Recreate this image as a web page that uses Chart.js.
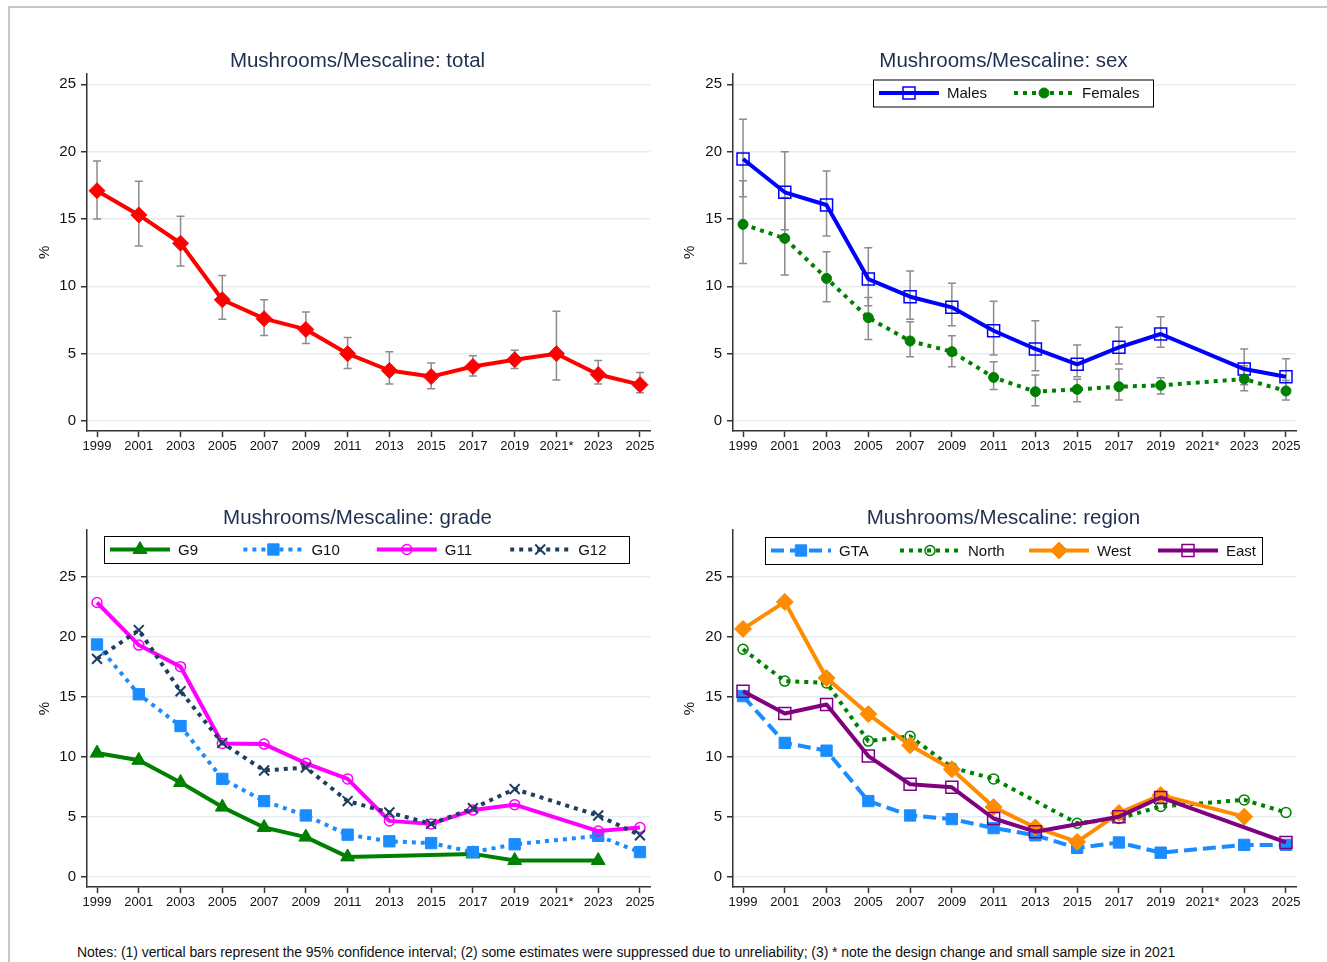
<!DOCTYPE html>
<html>
<head>
<meta charset="utf-8">
<title>Mushrooms/Mescaline</title>
<script src="https://cdn.jsdelivr.net/npm/chart.js@4.4.1/dist/chart.umd.min.js"></script>
<style>
  html, body { margin: 0; padding: 0; background: #fff; overflow: hidden; }
  body { width: 1327px; height: 962px; position: relative; font-family: "Liberation Sans", Arial, sans-serif; }
  .frame { position: absolute; left: 8px; top: 6px; right: -4px; bottom: -4px; border-top: 2px solid #c8c8c8; border-left: 2px solid #c8c8c8; }
  canvas { position: absolute; }
  #notes { position: absolute; left: 77px; top: 944px; font-size: 14px; letter-spacing: -0.06px; color: #111; white-space: nowrap; }
</style>
</head>
<body>
<div class="frame"></div>
<canvas id="cTotal" width="650" height="430" style="left:20px;top:40px"></canvas>
<canvas id="cSex" width="651" height="430" style="left:665px;top:40px"></canvas>
<canvas id="cGrade" width="650" height="430" style="left:20px;top:497px"></canvas>
<canvas id="cRegion" width="651" height="430" style="left:665px;top:497px"></canvas>
<div id="notes">Notes: (1) vertical bars represent the 95% confidence interval; (2) some estimates were suppressed due to unreliability; (3) * note the design change and small sample size in 2021</div>
<script>
// survey years on the x axis
const years = ['1999', '2001', '2003', '2005', '2007', '2009', '2011', '2013', '2015', '2017', '2019', '2021*', '2023', '2025'];
const yTicks = [0, 5, 10, 15, 20, 25];

// total, with 95% CI
const totalPct = [17.1, 15.3, 13.2, 9.0, 7.6, 6.8, 5.0, 3.75, 3.3, 4.05, 4.55, 5.0, 3.45, 2.7];
const totalLo  = [15.0, 13.0, 11.5, 7.55, 6.35, 5.75, 3.9, 2.75, 2.4, 3.35, 3.9, 3.05, 2.75, 2.1];
const totalHi  = [19.3, 17.8, 15.2, 10.8, 9.0, 8.1, 6.2, 5.15, 4.3, 4.85, 5.25, 8.15, 4.5, 3.6];

// by sex, with 95% CI (2021 suppressed)
const malesPct   = [19.45, 16.98, 16.04, 10.54, 9.23, 8.44, 6.7, 5.35, 4.21, 5.47, 6.46, null, 3.86, 3.29];
const malesLo    = [16.65, 14.2, 13.73, 8.56, 7.55, 7.08, 4.9, 3.74, 3.29, 4.23, 5.47, null, 2.7, 2.4];
const malesHi    = [22.4, 20.0, 18.56, 12.87, 11.14, 10.22, 8.9, 7.45, 5.64, 6.96, 7.74, null, 5.35, 4.63];
const femalesPct = [14.6, 13.56, 10.59, 7.67, 5.94, 5.15, 3.24, 2.18, 2.35, 2.55, 2.65, null, 3.12, 2.23];
const femalesLo  = [11.7, 10.84, 8.86, 6.06, 4.77, 4.03, 2.35, 1.14, 1.43, 1.56, 2.0, null, 2.25, 1.56];
const femalesHi  = [17.84, 16.6, 12.57, 9.18, 7.37, 6.33, 4.4, 3.42, 3.1, 3.86, 3.21, null, 4.1, 3.0];

// by grade
const g9Pct  = [10.3, 9.7, 7.85, 5.8, 4.1, 3.3, 1.65, null, null, 1.9, 1.35, null, 1.35, null];
const g10Pct = [19.35, 15.2, 12.55, 8.15, 6.3, 5.1, 3.5, 2.95, 2.8, 2.05, 2.7, null, 3.4, 2.05];
const g11Pct = [22.85, 19.3, 17.5, 11.1, 11.05, 9.45, 8.15, 4.65, 4.4, 5.55, 6.0, null, 3.8, 4.1];
const g12Pct = [18.15, 20.55, 15.45, 11.15, 8.85, 9.1, 6.3, 5.35, 4.4, 5.7, 7.3, null, 5.1, 3.45];

// by region
const gtaPct   = [15.05, 11.15, 10.5, 6.3, 5.1, 4.8, 4.05, 3.45, 2.4, 2.85, 2.0, null, 2.65, 2.65];
const northPct = [18.95, 16.3, 16.15, 11.3, 11.7, 9.1, 8.15, null, 4.45, 4.85, 5.85, null, 6.4, 5.35];
const westPct  = [20.65, 22.9, 16.55, 13.55, 10.95, 8.95, 5.8, 4.1, 2.9, 5.3, 6.8, null, 5.0, null];
const eastPct  = [15.45, 13.6, 14.35, 10.05, 7.7, 7.45, 4.85, 3.75, null, 5.0, 6.6, null, null, 2.85];

const FONT = '"Liberation Sans", Arial, sans-serif';
const INK = '#111';
const AXIS = '#333';
Chart.defaults.font.family = FONT;
Chart.defaults.color = INK;

// missing estimates are dropped so the line joins the neighbours
function points(vals) {
  return vals.map((v, i) => ({ x: i, y: v })).filter(p => p.y !== null);
}

function series(label, vals, st, idx) {
  return {
    label: label,
    data: points(vals),
    order: -idx,
    borderColor: st.color,
    borderWidth: 4,
    borderDash: st.dash || [],
    borderJoinStyle: 'round',
    borderCapStyle: 'butt',
    pointStyle: st.marker,
    pointRadius: st.size,
    pointBorderWidth: st.line || 1,
    pointBorderColor: st.color,
    pointBackgroundColor: st.hollow ? 'rgba(0,0,0,0)' : st.color,
    pointHoverRadius: st.size,
    tension: 0,
    fill: false,
    ciLo: st.lo || null,
    ciHi: st.hi || null
  };
}

// grey confidence interval whiskers, under the lines
const ciBars = {
  id: 'ciBars',
  beforeDatasetsDraw(chart) {
    const { ctx, scales: { x, y } } = chart;
    ctx.save();
    ctx.strokeStyle = '#8c8c8c';
    ctx.lineWidth = 1.5;
    chart.data.datasets.forEach(ds => {
      if (!ds.ciLo) return;
      ds.ciLo.forEach((lo, i) => {
        const hi = ds.ciHi[i];
        if (lo === null || hi === null) return;
        const px = x.getPixelForValue(i);
        const yl = y.getPixelForValue(lo);
        const yh = y.getPixelForValue(hi);
        ctx.beginPath();
        ctx.moveTo(px, yl); ctx.lineTo(px, yh);
        ctx.moveTo(px - 4, yl); ctx.lineTo(px + 4, yl);
        ctx.moveTo(px - 4, yh); ctx.lineTo(px + 4, yh);
        ctx.stroke();
      });
    });
    ctx.restore();
  }
};

const panelTitle = {
  id: 'panelTitle',
  afterDraw(chart, args, opts) {
    const { ctx, chartArea } = chart;
    ctx.save();
    ctx.font = '20.5px ' + FONT;
    ctx.fillStyle = '#1e2f4f';
    ctx.textAlign = 'center';
    ctx.textBaseline = 'middle';
    ctx.fillText(opts.text, (chartArea.left + chartArea.right) / 2 - 11, chartArea.top - 12);
    ctx.restore();
  }
};

// boxed legend inside the plot, line sample with its marker
const boxLegend = {
  id: 'boxLegend',
  afterDraw(chart, args, opts) {
    if (!opts.display) return;
    const { ctx, chartArea } = chart;
    const x0 = chartArea.left + opts.left;
    const y0 = chartArea.top + opts.top;
    const cy = y0 + opts.height / 2;
    ctx.save();
    ctx.fillStyle = '#fff';
    ctx.fillRect(x0, y0, opts.width, opts.height);
    ctx.strokeStyle = '#000';
    ctx.lineWidth = 1;
    ctx.strokeRect(x0 + 0.5, y0 + 0.5, opts.width, opts.height);
    chart.data.datasets.forEach((ds, i) => {
      const sx = x0 + 6 + i * opts.step;
      ctx.beginPath();
      ctx.setLineDash(ds.borderDash);
      ctx.lineWidth = ds.borderWidth;
      ctx.strokeStyle = ds.borderColor;
      ctx.lineCap = 'butt';
      ctx.moveTo(sx, cy);
      ctx.lineTo(sx + 60, cy);
      ctx.stroke();
      ctx.setLineDash([]);
      ctx.fillStyle = ds.pointBackgroundColor;
      ctx.strokeStyle = ds.pointBorderColor;
      ctx.lineWidth = ds.pointBorderWidth;
      Chart.helpers.drawPoint(ctx, {
        pointStyle: ds.pointStyle, radius: ds.pointRadius, borderWidth: ds.pointBorderWidth, rotation: 0
      }, sx + 30, cy);
      ctx.fillStyle = INK;
      ctx.font = '15px ' + FONT;
      ctx.textAlign = 'left';
      ctx.textBaseline = 'middle';
      ctx.fillText(ds.label, sx + 68, cy + 1);
    });
    ctx.restore();
  }
};

function makePanel(id, cfg) {
  return new Chart(document.getElementById(id), {
    type: 'line',
    data: { datasets: cfg.datasets },
    options: {
      responsive: false,
      animation: false,
      devicePixelRatio: 1,
      layout: { padding: { left: 12, right: 20, top: cfg.top, bottom: cfg.bottom } },
      plugins: {
        legend: { display: false },
        tooltip: { enabled: false },
        panelTitle: { text: cfg.title },
        boxLegend: cfg.legend || { display: false }
      },
      scales: {
        x: {
          type: 'linear',
          min: -0.24,
          max: 13.24,
          afterBuildTicks: s => { s.ticks = years.map((_, i) => ({ value: i })); },
          afterFit: s => { s.height = 34; },
          ticks: { callback: v => years[v], autoSkip: false, maxRotation: 0, padding: 2, font: { size: 13 }, color: INK },
          grid: { drawOnChartArea: false, tickLength: 6, tickColor: AXIS, tickWidth: 1.5 },
          border: { color: AXIS, width: 1.5 }
        },
        y: {
          min: cfg.yMin,
          max: cfg.yMax,
          afterBuildTicks: s => { s.ticks = yTicks.map(v => ({ value: v })); },
          afterFit: s => { s.width = cfg.yWidth; },
          ticks: { padding: 5, font: { size: 15 }, color: INK },
          grid: { color: '#e4edf1', lineWidth: 1.5, tickLength: 6, tickColor: AXIS, tickWidth: 1.5 },
          border: { color: AXIS, width: 1.5 },
          title: { display: true, text: '%', font: { size: 15 }, color: INK, padding: { top: 4, bottom: 4 } }
        }
      }
    },
    plugins: [ciBars, panelTitle, boxLegend]
  });
}

makePanel('cTotal', {
  title: 'Mushrooms/Mescaline: total',
  top: 33.5, bottom: 5, yMin: -0.74, yMax: 25.8, yWidth: 55,
  datasets: [
    series('Total', totalPct, { color: '#ff0000', marker: 'rectRot', size: 8, lo: totalLo, hi: totalHi }, 0)
  ]
});

makePanel('cSex', {
  title: 'Mushrooms/Mescaline: sex',
  top: 33.5, bottom: 5, yMin: -0.74, yMax: 25.8, yWidth: 56,
  legend: { display: true, left: 140, top: 6, width: 280, height: 27, step: 135 },
  datasets: [
    series('Males', malesPct, { color: '#0000ff', marker: 'rect', size: 8.5, hollow: true, line: 1.5, lo: malesLo, hi: malesHi }, 0),
    series('Females', femalesPct, { color: '#008000', marker: 'circle', size: 5, dash: [4, 5], lo: femalesLo, hi: femalesHi }, 1)
  ]
});

makePanel('cGrade', {
  title: 'Mushrooms/Mescaline: grade',
  top: 33, bottom: 6, yMin: -0.86, yMax: 28.89, yWidth: 55,
  legend: { display: true, left: 17, top: 6, width: 525, height: 27, step: 133.4 },
  datasets: [
    series('G9', g9Pct, { color: '#008000', marker: 'triangle', size: 8 }, 0),
    series('G10', g10Pct, { color: '#1a8cff', marker: 'rect', size: 8, dash: [4, 5] }, 1),
    series('G11', g11Pct, { color: '#ff00ff', marker: 'circle', size: 5, hollow: true, line: 1.5 }, 2),
    series('G12', g12Pct, { color: '#1f3d5f', marker: 'crossRot', size: 7, dash: [4, 5], line: 2 }, 3)
  ]
});

makePanel('cRegion', {
  title: 'Mushrooms/Mescaline: region',
  top: 33, bottom: 6, yMin: -0.86, yMax: 28.89, yWidth: 56,
  legend: { display: true, left: 32, top: 7, width: 497, height: 27, step: 129 },
  datasets: [
    series('GTA', gtaPct, { color: '#1a8cff', marker: 'rect', size: 8, dash: [13, 6] }, 0),
    series('North', northPct, { color: '#008000', marker: 'circle', size: 5, hollow: true, line: 1.5, dash: [4, 5] }, 1),
    series('West', westPct, { color: '#ff8c00', marker: 'rectRot', size: 8.5 }, 2),
    series('East', eastPct, { color: '#800080', marker: 'rect', size: 8.5, hollow: true, line: 1.5 }, 3)
  ]
});
</script>
</body>
</html>
